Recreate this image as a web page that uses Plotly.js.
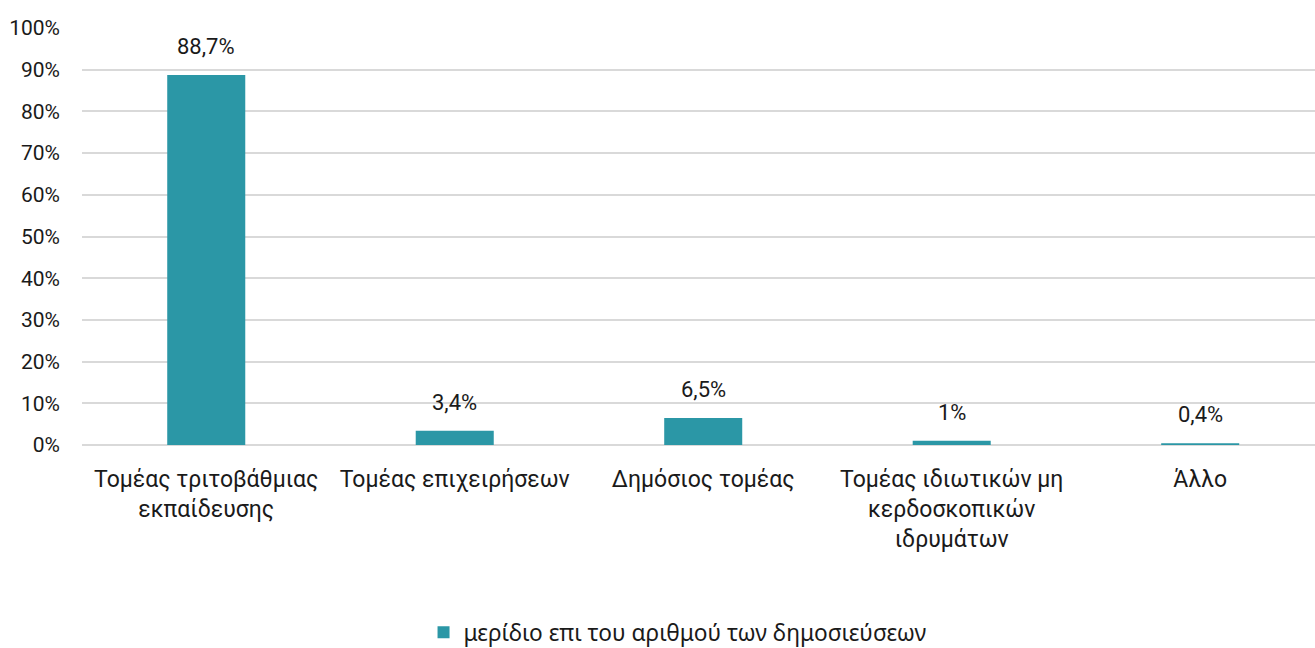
<!DOCTYPE html>
<html>
<head>
<meta charset="utf-8">
<script src="https://cdn.plot.ly/plotly-3.0.1.min.js"></script>
<style>html,body{margin:0;padding:0;background:#fff;}#chart{width:1315px;height:648px;}</style>
</head>
<body>
<div id="chart"></div>
<script>
const categories = [
  "Τομέας τριτοβάθμιας<br>εκπαίδευσης",
  "Τομέας επιχειρήσεων",
  "Δημόσιος τομέας",
  "Τομέας ιδιωτικών μη<br>κερδοσκοπικών<br>ιδρυμάτων",
  "Άλλο"
];
const shares = [88.7, 3.4, 6.5, 1, 0.4];
const seriesName = "μερίδιο επι του αριθμού των δημοσιεύσεων";
const labels = shares.map(v => String(v).replace('.', ',') + '%');

const trace = {
  type: 'bar',
  x: categories,
  y: shares,
  name: seriesName,
  marker: {color: '#2b97a6'},
  hoverinfo: 'none'
};

const annotations = categories.map((c, i) => ({
  x: c, y: shares[i], xref: 'x', yref: 'y',
  text: labels[i], showarrow: false,
  yanchor: 'bottom', yshift: 14,
  font: {family: 'Roboto, sans-serif', size: 22, color: '#1a1a1a'}
}));

const layout = {
  width: 1315, height: 648,
  margin: {l: 82, r: 0, t: 28, b: 203},
  paper_bgcolor: '#fff', plot_bgcolor: '#fff',
  bargap: 0.686,
  showlegend: true,
  annotations: annotations,
  legend: {orientation: 'h', x: 0.483, xanchor: 'center', yref: 'container', y: 0.024, yanchor: 'middle',
           font: {family: 'Noto Sans, sans-serif', size: 22.7, color: '#1a1a1a'},
           itemwidth: 30},
  xaxis: {
    range: [-0.5, 4.462], automargin: false,
    showgrid: false, zeroline: false, showline: false,
    tickfont: {family: 'Roboto, sans-serif', size: 23, color: '#1a1a1a'},
    ticks: '', ticklabelstandoff: 18, tickangle: 0
  },
  yaxis: {
    range: [0, 100], dtick: 10, ticksuffix: '%', automargin: false,
    showgrid: true, gridcolor: '#d9d9d9', gridwidth: 2,
    zeroline: true, zerolinecolor: '#d9d9d9', zerolinewidth: 2,
    showline: false,
    tickfont: {family: 'Roboto, sans-serif', size: 21, color: '#1a1a1a'},
    ticklabelstandoff: 21
  }
};

Plotly.newPlot('chart', [trace], layout, {displayModeBar: false, staticPlot: true});
</script>
</body>
</html>
